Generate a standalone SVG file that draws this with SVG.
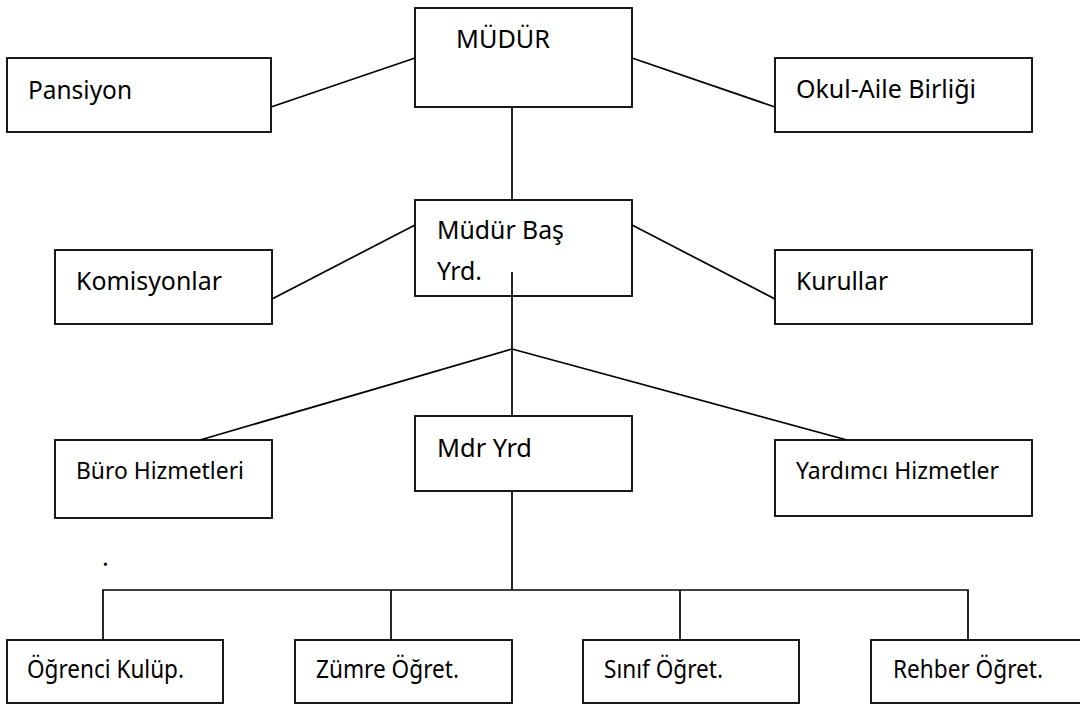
<svg xmlns="http://www.w3.org/2000/svg" width="1080" height="705" viewBox="0 0 1080 705">
<style>
.box{fill:#fff;stroke:#000;stroke-width:1.8}
.ln{fill:none;stroke:#000;stroke-width:1.7}
.t{font-family:"Noto Sans","Open Sans","Liberation Sans",sans-serif;font-size:25.5px;fill:#000}
.s{font-size:23.5px}
</style>
<rect width="1080" height="705" fill="#fff"/>
<g id="mudur"><rect class="box" x="415" y="8" width="217" height="99"/><text class="t" x="456" y="48" textLength="94" lengthAdjust="spacingAndGlyphs">MÜDÜR</text></g>
<g id="pansiyon"><rect class="box" x="7" y="58" width="264" height="74"/><text class="t" x="28" y="99" textLength="104" lengthAdjust="spacingAndGlyphs">Pansiyon</text></g>
<g id="okul-aile"><rect class="box" x="775" y="58" width="257" height="74"/><text class="t" x="796" y="98" textLength="180" lengthAdjust="spacingAndGlyphs">Okul-Aile Birliği</text></g>
<g id="mudur-bas"><rect class="box" x="415" y="200" width="217" height="96"/><text class="t" x="437" y="239" textLength="127" lengthAdjust="spacingAndGlyphs">Müdür Baş</text><text class="t" x="437" y="280" textLength="45" lengthAdjust="spacingAndGlyphs">Yrd.</text></g>
<g id="komisyonlar"><rect class="box" x="55" y="250" width="217" height="74"/><text class="t" x="76" y="290" textLength="146" lengthAdjust="spacingAndGlyphs">Komisyonlar</text></g>
<g id="kurullar"><rect class="box" x="775" y="250" width="257" height="74"/><text class="t" x="796" y="290" textLength="92" lengthAdjust="spacingAndGlyphs">Kurullar</text></g>
<g id="buro"><rect class="box" x="55" y="440" width="217" height="78"/><text class="t s" x="76" y="479" textLength="168" lengthAdjust="spacingAndGlyphs">Büro Hizmetleri</text></g>
<g id="mdr-yrd"><rect class="box" x="415" y="416" width="217" height="75"/><text class="t" x="437" y="457" textLength="95" lengthAdjust="spacingAndGlyphs">Mdr Yrd</text></g>
<g id="yardimci"><rect class="box" x="775" y="440" width="257" height="76"/><text class="t s" x="796" y="479" textLength="203" lengthAdjust="spacingAndGlyphs">Yardımcı Hizmetler</text></g>
<text class="t" x="102" y="566" font-size="14">.</text>
<g id="ogrenci"><rect class="box" x="7" y="640" width="216" height="63"/><text class="t" x="27" y="678" textLength="157" lengthAdjust="spacingAndGlyphs">Öğrenci Kulüp.</text></g>
<g id="zumre"><rect class="box" x="295" y="640" width="217" height="63"/><text class="t" x="316" y="678" textLength="143" lengthAdjust="spacingAndGlyphs">Zümre Öğret.</text></g>
<g id="sinif"><rect class="box" x="583" y="640" width="216" height="63"/><text class="t" x="604" y="678" textLength="119" lengthAdjust="spacingAndGlyphs">Sınıf Öğret.</text></g>
<g id="rehber"><rect class="box" x="871" y="640" width="216" height="63"/><text class="t" x="893" y="678" textLength="150" lengthAdjust="spacingAndGlyphs">Rehber Öğret.</text></g>
<g id="connectors">
<line class="ln" x1="271" y1="107" x2="415" y2="58"/>
<line class="ln" x1="632" y1="58" x2="775" y2="107"/>
<line class="ln" x1="512" y1="107" x2="512" y2="200"/>
<line class="ln" x1="272" y1="299" x2="415" y2="225"/>
<line class="ln" x1="632" y1="225" x2="775" y2="299"/>
<line class="ln" x1="512" y1="272" x2="512" y2="416"/>
<line class="ln" x1="512" y1="349" x2="200" y2="440"/>
<line class="ln" x1="512" y1="349" x2="847" y2="440"/>
<line class="ln" x1="512" y1="491" x2="512" y2="590"/>
<polyline class="ln" points="103,640 103,590 968,590 968,640"/>
<line class="ln" x1="391" y1="590" x2="391" y2="640"/>
<line class="ln" x1="680" y1="590" x2="680" y2="640"/>
</g>
</svg>
